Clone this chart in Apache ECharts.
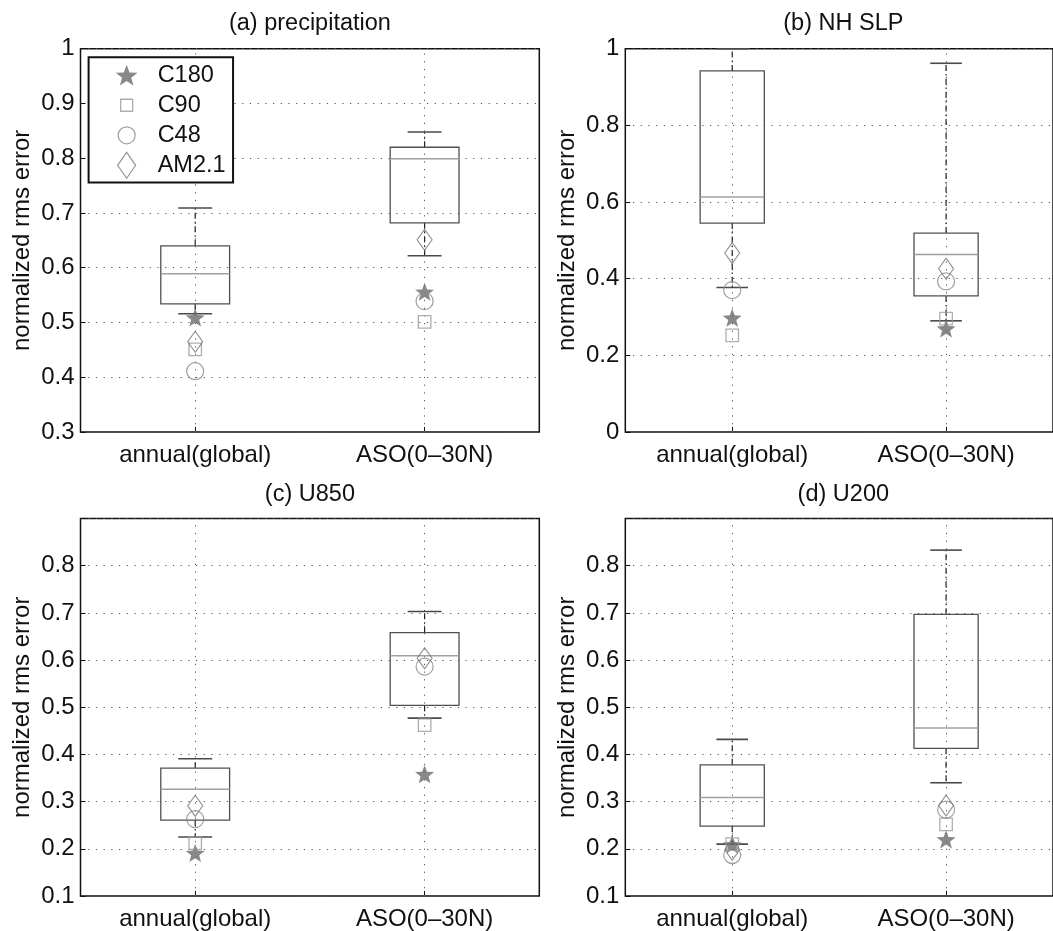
<!DOCTYPE html>
<html><head><meta charset="utf-8">
<script src="https://cdn.jsdelivr.net/npm/echarts@6/dist/echarts.min.js"></script>
<style>html,body{margin:0;padding:0;background:#fff}#c{width:1053px;height:931px}</style>
</head><body><div id="c"></div>
<script>
// ---------------- data ----------------
const categories = ['annual(global)', 'ASO(0–30N)'];
const panelTitles = ['(a) precipitation', '(b) NH SLP', '(c) U850', '(d) U200'];
const yLabel = 'normalized rms error';
const models = ['C180', 'C90', 'C48', 'AM2.1'];

// box statistics per category: [min, q1, median, q3, max]
const precipBox = [[0.516, 0.534, 0.589, 0.640, 0.709], [0.622, 0.682, 0.799, 0.820, 0.848]];
const slpBox    = [[0.377, 0.545, 0.613, 0.942, 1.000], [0.290, 0.355, 0.463, 0.519, 0.962]];
const u850Box   = [[0.225, 0.261, 0.326, 0.371, 0.391], [0.477, 0.504, 0.609, 0.658, 0.703]];
const u200Box   = [[0.210, 0.248, 0.309, 0.378, 0.432], [0.340, 0.413, 0.456, 0.697, 0.833]];

// model values: [annual(global), ASO(0-30N)]
const precipC180 = [0.509, 0.556], precipC90 = [0.451, 0.501], precipC48 = [0.411, 0.539], precipAM21 = [0.465, 0.651];
const slpC180    = [0.298, 0.270], slpC90    = [0.252, 0.296], slpC48    = [0.370, 0.393], slpAM21    = [0.467, 0.426];
const u850C180   = [0.191, 0.358], u850C90   = [0.212, 0.462], u850C48   = [0.263, 0.586], u850AM21   = [0.291, 0.604];
const u200C180   = [0.209, 0.220], u200C90   = [0.210, 0.252], u200C48   = [0.187, 0.283], u200AM21   = [0.198, 0.292];

// y axis ranges
const yMins = [0.3, 0, 0.1, 0.1];
const yMaxs = [1, 1, 0.9, 0.9];
const yIntervals = [0.1, 0.2, 0.1, 0.1];
const yHiddenTop = [false, false, true, true];

// ---------------- layout / style ----------------
const FONT = 'Liberation Sans, Arial, Helvetica, sans-serif';
const TXT = '#111111';
const grids = [
  {left: 80.5, top: 48.7, width: 458.8, height: 383.3},
  {left: 625.3, top: 48.7, width: 436, height: 383.3},
  {left: 80.5, top: 518.5, width: 458.8, height: 381.5},
  {left: 625.3, top: 518.5, width: 436, height: 381.5}
];
const titleTops = [12, 12, 483, 483];

const boxes = [precipBox, slpBox, u850Box, u200Box];
const modelVals = [
  [precipC180, precipC90, precipC48, precipAM21],
  [slpC180, slpC90, slpC48, slpAM21],
  [u850C180, u850C90, u850C48, u850AM21],
  [u200C180, u200C90, u200C48, u200AM21]
];

function starPath(cx, cy, R, r) {
  let d = '';
  for (let i = 0; i < 10; i++) {
    const a = -Math.PI / 2 + i * Math.PI / 5;
    const rad = i % 2 ? r : R;
    d += (i ? 'L' : 'M') + (cx + rad * Math.cos(a)).toFixed(2) + ' ' + (cy + rad * Math.sin(a)).toFixed(2) + ' ';
  }
  return d + 'Z';
}

const markerStyles = [
  {symbol: 'path://' + starPath(0, 0, 10, 4.2), size: 19, itemStyle: {color: '#6a6a6a', borderWidth: 0}},
  {symbol: 'rect', size: 12.5, itemStyle: {color: 'rgba(0,0,0,0)', borderColor: '#9a9a9a', borderWidth: 1.3}},
  {symbol: 'circle', size: 17, itemStyle: {color: 'rgba(0,0,0,0)', borderColor: '#888888', borderWidth: 1.2}},
  {symbol: 'diamond', size: [15, 21], itemStyle: {color: 'rgba(0,0,0,0)', borderColor: '#7a7a7a', borderWidth: 1.2}}
];
const PAD = 'path://M0 0 M52 27 ';
const legendIcons = [
  PAD + starPath(26, 14, 11.5, 4.8),
  PAD + 'M20 7.5 L32 7.5 L32 19.5 L20 19.5 Z',
  PAD + 'M17.5 13.5 A8.5 8.5 0 1 1 34.5 13.5 A8.5 8.5 0 1 1 17.5 13.5 Z',
  PAD + 'M26 0.5 L35 13.5 L26 26.5 L17 13.5 Z'
];

function renderBox(params, api) {
  const cat = api.value(0);
  const band = api.size([1, 0])[0];
  const half = band * 0.15, capHalf = band * 0.074;
  const pMin = api.coord([cat, api.value(1)]);
  const pQ1 = api.coord([cat, api.value(2)]);
  const pMed = api.coord([cat, api.value(3)]);
  const pQ3 = api.coord([cat, api.value(4)]);
  const pMax = api.coord([cat, api.value(5)]);
  const x = pMed[0];
  const whisk = {stroke: '#222222', lineWidth: 1.2, lineDash: [6, 3, 1.5, 3], fill: null};
  const cap = {stroke: '#4a4a4a', lineWidth: 1.6};
  return {type: 'group', children: [
    {type: 'line', shape: {x1: x, y1: pQ3[1], x2: x, y2: pMax[1]}, style: whisk},
    {type: 'line', shape: {x1: x, y1: pQ1[1], x2: x, y2: pMin[1]}, style: whisk},
    {type: 'line', shape: {x1: x - capHalf, y1: pMax[1], x2: x + capHalf, y2: pMax[1]}, style: cap},
    {type: 'line', shape: {x1: x - capHalf, y1: pMin[1], x2: x + capHalf, y2: pMin[1]}, style: cap},
    {type: 'rect', shape: {x: x - half, y: pQ3[1], width: 2 * half, height: pQ1[1] - pQ3[1]},
      style: {fill: 'none', stroke: '#505050', lineWidth: 1.3}},
    {type: 'line', shape: {x1: x - half, y1: pMed[1], x2: x + half, y2: pMed[1]},
      style: {stroke: '#a0a0a0', lineWidth: 1.5}}
  ]};
}

const dotted = {type: [1.2, 6.5], color: '#555', width: 1};

const option = {
  animation: false,
  backgroundColor: '#ffffff',
  textStyle: {fontFamily: FONT},
  title: panelTitles.map((t, i) => ({
    text: t, left: grids[i].left + grids[i].width / 2, top: titleTops[i], padding: 0,
    textAlign: 'center',
    textStyle: {fontSize: 23.5, fontWeight: 'normal', color: TXT, fontFamily: FONT}
  })),
  legend: {
    orient: 'vertical', left: 88.6, top: 57.3, padding: [5, 7.5, 3, 11.4],
    itemWidth: 52, itemHeight: 27, itemGap: 1.8, selectedMode: false,
    backgroundColor: '#fff', borderColor: '#111', borderWidth: 2,
    textStyle: {fontSize: 23.5, color: TXT, fontFamily: FONT},
    data: models.map((m, k) => ({name: m, icon: legendIcons[k], itemStyle: Object.assign({}, markerStyles[k].itemStyle)}))
  },
  grid: grids.map(g => Object.assign({show: true, borderColor: '#111', borderWidth: 1.5, containLabel: false}, g)),
  xAxis: grids.map((g, i) => ({
    type: 'category', gridIndex: i, data: categories, boundaryGap: true,
    axisLine: {show: false},
    axisTick: {show: true, inside: true, alignWithLabel: true, length: 5, lineStyle: {color: '#111'}},
    axisLabel: {fontSize: 24, color: TXT, margin: 11, fontFamily: FONT},
    splitLine: {show: false}
  })),
  yAxis: grids.map((g, i) => ({
    type: 'value', gridIndex: i, min: yMins[i], max: yMaxs[i], interval: yIntervals[i],
    axisLine: {show: false},
    axisTick: {show: true, inside: true, length: 5, lineStyle: {color: '#111'}},
    axisLabel: {fontSize: 24, color: TXT, margin: 6, fontFamily: FONT,
      formatter: v => (yHiddenTop[i] && Math.abs(v - yMaxs[i]) < 1e-6) ? '' : String(+v.toFixed(2))},
    splitLine: {show: true, lineStyle: dotted},
    name: yLabel, nameLocation: 'middle', nameGap: 46,
    nameTextStyle: {fontSize: 24, color: TXT, fontFamily: FONT}
  })),
  series: []
};

boxes.forEach((bx, i) => {
  option.series.push({
    type: 'custom', name: 'box' + i, xAxisIndex: i, yAxisIndex: i, z: 3, silent: true,
    renderItem: renderBox,
    encode: {x: 0, y: [1, 2, 3, 4, 5]},
    data: bx.map((s, j) => [j].concat(s)),
    markLine: {silent: true, symbol: 'none', label: {show: false}, z: 2,
      lineStyle: dotted, emphasis: {disabled: true},
      data: categories.map(c => ({xAxis: c}))}
  });
  models.forEach((m, k) => {
    option.series.push({
      type: 'scatter', name: m, xAxisIndex: i, yAxisIndex: i, z: 10, silent: true,
      symbol: markerStyles[k].symbol, symbolSize: markerStyles[k].size, symbolKeepAspect: true,
      itemStyle: markerStyles[k].itemStyle,
      data: modelVals[i][k].map((v, j) => [j, v])
    });
  });
});

const chart = echarts.init(document.getElementById('c'), null, {renderer: 'canvas'});
chart.setOption(option);
</script>
</body></html>
